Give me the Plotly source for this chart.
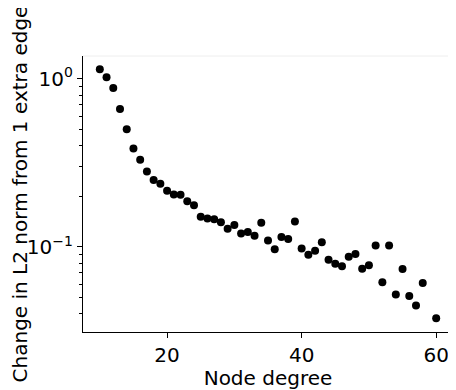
import plotly.graph_objects as go

degrees = [10, 11, 12, 13, 14, 15, 16, 17, 18, 19, 20, 21, 22, 23, 24, 25, 26, 27, 28, 29,
           30, 31, 32, 33, 34, 35, 36, 37, 38, 39, 40, 41, 42, 43, 44, 45, 46, 47, 48, 49,
           50, 51, 52, 53, 54, 55, 56, 57, 58, 60]
l2_change = [1.14, 1.02, 0.88, 0.66, 0.50, 0.385, 0.33, 0.281, 0.25, 0.237, 0.216, 0.205, 0.204, 0.187, 0.177, 0.151, 0.1475, 0.146, 0.140, 0.128,
             0.135, 0.120, 0.1225, 0.1166, 0.139, 0.109, 0.0969, 0.1145, 0.1114, 0.1416, 0.0977, 0.0897, 0.095, 0.1066, 0.0840, 0.0794, 0.0766, 0.0874, 0.0906, 0.0742,
             0.0777, 0.102, 0.0616, 0.102, 0.0522, 0.074, 0.051, 0.0448, 0.0611, 0.0376]

x_ticks = [20, 40, 60]
y_ticks = [0.1, 1.0]
y_tick_text = ["10<sup>\u22121</sup>", "10<sup>0</sup>"]
y_minor_ticks = [0.04, 0.05, 0.06, 0.07, 0.08, 0.09, 0.2, 0.3, 0.4, 0.5, 0.6, 0.7, 0.8, 0.9]

fig = go.Figure()
fig.add_trace(go.Scatter(
    x=degrees, y=l2_change, mode="markers",
    marker=dict(color="black", size=8, line=dict(width=0)),
    showlegend=False,
))

# the page body has an 8px default margin, so the figure is made 8px smaller
font_family = "DejaVu Sans"
fig.update_layout(
    width=448, height=382,
    margin=dict(l=75, r=3, t=48, b=58),
    plot_bgcolor="white", paper_bgcolor="white",
    font=dict(family=font_family, size=20, color="black"),
    xaxis=dict(
        range=[7.5, 62.5], tickvals=x_ticks, ticks="outside", ticklen=5, tickwidth=1,
        tickcolor="black", showline=True, linecolor="black", linewidth=1.2,
        showgrid=False, zeroline=False, automargin=False,
        title=dict(text="Node degree", font=dict(size=20)),
        tickfont=dict(size=20),
    ),
    yaxis=dict(
        type="log", range=[-1.506, 0.135], tickmode="array", tickvals=y_ticks, ticktext=y_tick_text,
        ticks="outside", ticklen=5, tickwidth=1, tickcolor="black",
        showline=True, linecolor="black", linewidth=1.2,
        showgrid=False, zeroline=False, automargin=False,
        minor=dict(ticks="outside", ticklen=3, tickwidth=1, tickcolor="black",
                   tickmode="array", tickvals=y_minor_ticks, showgrid=False),
        title=dict(text="Change in L2 norm from 1 extra edge", font=dict(size=20)),
        tickfont=dict(size=20),
    ),
    shapes=[
        dict(type="line", xref="paper", yref="paper", x0=0, x1=1, y0=1, y1=1,
             line=dict(color="#eeeeee", width=1)),
        dict(type="line", xref="paper", yref="paper", x0=1, x1=1, y0=0, y1=1,
             line=dict(color="#eeeeee", width=1)),
    ],
)

fig.write_html("out.html")
